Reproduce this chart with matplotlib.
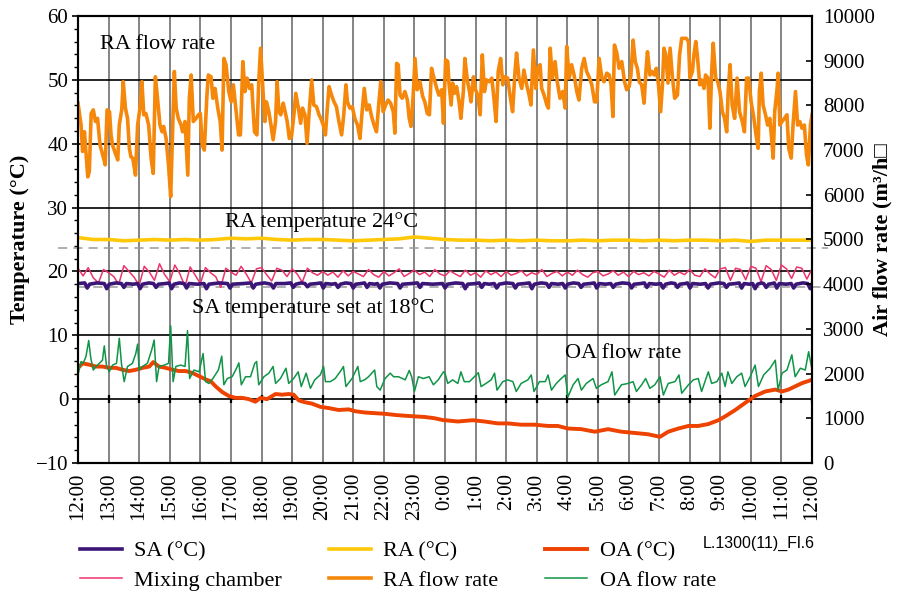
import matplotlib
matplotlib.use("Agg")
import matplotlib.pyplot as plt
import matplotlib.ticker as ticker
import matplotlib.transforms as mtransforms
import numpy as np

plt.rcParams["font.family"] = ["Liberation Serif", "DejaVu Serif"]

# --- data (hours after 12:00) ---------------------------------------------
HOUR_LABELS = ["12:00", "13:00", "14:00", "15:00", "16:00", "17:00", "18:00",
               "19:00", "20:00", "21:00", "22:00", "23:00", "0:00", "1:00",
               "2:00", "3:00", "4:00", "5:00", "6:00", "7:00", "8:00", "9:00",
               "10:00", "11:00", "12:00"]

RA_FLOW_HOURS = [
    0.00, 0.10, 0.15, 0.21, 0.32, 0.37, 0.43, 0.50, 0.57, 0.64, 0.72, 0.81, 0.89, 0.95,
    1.03, 1.08, 1.13, 1.22, 1.30, 1.35, 1.43, 1.48, 1.55, 1.62, 1.68, 1.73, 1.79, 1.88, 1.95,
    2.04, 2.09, 2.15, 2.22, 2.31, 2.39, 2.46, 2.53, 2.61, 2.68, 2.75, 2.80, 2.88, 2.96,
    3.03, 3.10, 3.15, 3.21, 3.28, 3.37, 3.42, 3.50, 3.59, 3.64, 3.70, 3.77, 3.86, 3.94,
    4.00, 4.06, 4.13, 4.21, 4.26, 4.35, 4.41, 4.48, 4.57, 4.65, 4.71, 4.77, 4.84, 4.93,
    5.01, 5.08, 5.17, 5.25, 5.31, 5.39, 5.46, 5.53, 5.61, 5.68, 5.77, 5.85, 5.91, 5.97,
    6.05, 6.11, 6.16, 6.24, 6.31, 6.38, 6.46, 6.51, 6.57, 6.63, 6.71, 6.76, 6.84, 6.91, 6.98,
    7.06, 7.12, 7.20, 7.28, 7.34, 7.42, 7.49, 7.56, 7.64, 7.71, 7.80, 7.88, 7.94,
    8.02, 8.09, 8.16, 8.21, 8.29, 8.37, 8.45, 8.53, 8.62, 8.69, 8.76, 8.81, 8.89, 8.97,
    9.05, 9.14, 9.22, 9.29, 9.36, 9.44, 9.52, 9.60, 9.68, 9.76, 9.84, 9.90, 9.98,
    10.06, 10.14, 10.22, 10.31, 10.36, 10.42, 10.47, 10.53, 10.60, 10.69, 10.77, 10.83, 10.89, 10.96,
    11.02, 11.09, 11.18, 11.27, 11.34, 11.42, 11.49, 11.56, 11.64, 11.73, 11.80, 11.89, 11.95,
    12.02, 12.09, 12.13, 12.20, 12.25, 12.31, 12.38, 12.46, 12.52, 12.60, 12.65, 12.73, 12.80, 12.85, 12.93,
    13.00, 13.07, 13.15, 13.22, 13.29, 13.36, 13.44, 13.53, 13.60, 13.67, 13.74, 13.82, 13.89, 13.96,
    14.05, 14.13, 14.21, 14.29, 14.34, 14.42, 14.51, 14.58, 14.67, 14.75, 14.81, 14.89, 14.97,
    15.03, 15.11, 15.16, 15.24, 15.33, 15.38, 15.44, 15.51, 15.60, 15.67, 15.76, 15.85, 15.93, 15.98,
    16.06, 16.14, 16.22, 16.31, 16.38, 16.47, 16.55, 16.63, 16.71, 16.80, 16.89, 16.96,
    17.04, 17.13, 17.20, 17.29, 17.37, 17.43, 17.49, 17.54, 17.62, 17.69, 17.78, 17.87, 17.94,
    18.02, 18.08, 18.15, 18.22, 18.29, 18.35, 18.43, 18.51, 18.57, 18.62, 18.70, 18.76, 18.84, 18.91, 18.98,
    19.05, 19.11, 19.16, 19.22, 19.29, 19.36, 19.43, 19.51, 19.60, 19.67, 19.74, 19.82, 19.89, 19.96,
    20.01, 20.09, 20.14, 20.20, 20.25, 20.33, 20.39, 20.47, 20.52, 20.60, 20.66, 20.72, 20.77, 20.85, 20.92, 20.99,
    21.07, 21.14, 21.21, 21.26, 21.32, 21.39, 21.47, 21.55, 21.63, 21.72, 21.79, 21.86, 21.93,
    22.01, 22.10, 22.17, 22.24, 22.28, 22.34, 22.40, 22.48, 22.55, 22.62, 22.67, 22.73, 22.78, 22.86, 22.89, 22.95,
    23.02, 23.10, 23.18, 23.24, 23.32, 23.38, 23.46, 23.53, 23.60, 23.67, 23.75, 23.82, 23.88, 23.95, 24.00,
]
RA_FLOW = [
    8050, 7560, 6970, 7410, 6400, 6520, 7820, 7900, 7640, 7710, 7110, 6890, 6670, 7900,
    7860, 7340, 7110, 6930, 6780, 7560, 7900, 8530, 7940, 7710, 7040, 6850, 6820, 6440, 7560,
    8010, 8530, 7790, 7820, 7560, 6820, 6480, 8640, 8080, 7560, 7410, 7530, 7260, 6670,
    5960, 7560, 8760, 7940, 7710, 7560, 7410, 7640, 6440, 8160, 8680, 7640, 7710, 7790,
    7820, 7110, 7000, 8160, 8680, 8640, 8160, 8380, 7940, 7640, 7000, 9050, 8910, 8310,
    8080, 8460, 7860, 7340, 7340, 8980, 8310, 8610, 8380, 8460, 7410, 7340, 8530, 9280,
    8310, 7640, 8080, 7860, 7560, 7230, 7640, 8530, 7860, 7790, 8050, 7900, 7640, 7260, 7300,
    7790, 8270, 7970, 7600, 7940, 7790, 7150, 7860, 8570, 8010, 7970, 7790, 7710,
    7560, 7340, 8010, 8420, 8230, 8080, 7970, 7640, 7340, 7790, 8460, 8080, 7940, 7970,
    7710, 7560, 7260, 7860, 8380, 7900, 8010, 7750, 7560, 7410, 8080, 8530, 7860,
    8010, 8120, 8050, 7860, 7380, 8940, 8910, 8230, 8160, 8310, 8120, 7710, 7530, 8230,
    9050, 8350, 8530, 8200, 8080, 7820, 7790, 8830, 8610, 8380, 8230, 8350, 7600,
    9020, 8980, 8500, 8010, 8500, 8270, 8420, 8080, 7710, 8310, 9050, 8570, 8310, 8080, 8640,
    8350, 8230, 7790, 9130, 8310, 8570, 8530, 8610, 8160, 7640, 8760, 9050, 8460, 8640,
    8610, 8200, 7860, 8760, 9170, 8610, 8380, 8790, 8460, 8230, 8010, 9240, 8380,
    8830, 8910, 8380, 8230, 8010, 7940, 9280, 8610, 8980, 8530, 8160, 8310, 7940, 9320,
    8610, 8910, 8680, 8310, 8120, 8830, 9050, 8760, 8640, 8460, 8080, 8080,
    9050, 8610, 8530, 8720, 8680, 8460, 7750, 9350, 9170, 8830, 8980, 8530, 8350,
    8420, 8680, 9460, 8980, 8830, 8530, 8460, 8050, 8760, 9200, 8680, 8760, 8680, 8830, 8460,
    7860, 8460, 9280, 9130, 8500, 9280, 8680, 8160, 8230, 9130, 9500, 9500, 9500, 9430,
    8610, 8760, 9130, 9430, 9130, 8460, 8570, 8380, 8680, 8610, 7490, 8760, 9390, 8610, 8530, 8310,
    7860, 7710, 7410, 8310, 8910, 8010, 7710, 8610, 7860, 7640, 7410, 8610, 8610,
    8080, 7710, 7340, 7040, 8310, 8720, 8010, 7790, 7560, 7710, 7340, 6820, 7860, 8380, 8720, 7560,
    7640, 7710, 7790, 7040, 6820, 7560, 8310, 7560, 7640, 7490, 7560, 6890, 6670, 7560, 7790,
]

OA_FLOW_HOURS = [
    0.00, 0.10, 0.17, 0.26, 0.35, 0.42, 0.50, 0.59, 0.70, 0.80,
    0.86, 0.93, 1.02, 1.13, 1.26, 1.35, 1.42, 1.51, 1.62, 1.78,
    1.89, 1.95, 2.00, 2.11, 2.27, 2.41, 2.49, 2.57, 2.65, 2.82,
    2.96, 3.03, 3.11, 3.20, 3.36, 3.50, 3.58, 3.65, 3.79, 3.96,
    4.09, 4.17, 4.28, 4.41, 4.59, 4.70, 4.77, 4.88, 5.04, 5.17,
    5.26, 5.34, 5.48, 5.64, 5.78, 5.84, 5.91, 6.08, 6.24, 6.38,
    6.46, 6.62, 6.80, 6.89, 7.05, 7.20, 7.30, 7.46, 7.60, 7.74,
    7.92, 8.03, 8.09, 8.25, 8.41, 8.61, 8.68, 8.76, 8.96, 9.15,
    9.23, 9.37, 9.50, 9.70, 9.77, 9.88, 10.04, 10.21, 10.32, 10.48,
    10.70, 10.83, 10.91, 11.00, 11.13, 11.29, 11.48, 11.62, 11.78, 11.95,
    12.00, 12.09, 12.25, 12.42, 12.52, 12.63, 12.80, 12.96, 13.09, 13.18,
    13.34, 13.51, 13.62, 13.70, 13.89, 14.05, 14.22, 14.33, 14.49, 14.71,
    14.82, 14.91, 15.09, 15.28, 15.37, 15.48, 15.64, 15.80, 15.93, 16.02,
    16.19, 16.35, 16.46, 16.62, 16.84, 16.95, 17.11, 17.33, 17.46, 17.55,
    17.77, 17.99, 18.15, 18.26, 18.43, 18.56, 18.70, 18.86, 19.03, 19.14,
    19.30, 19.52, 19.65, 19.74, 19.96, 20.12, 20.28, 20.39, 20.61, 20.72,
    20.89, 21.05, 21.16, 21.25, 21.38, 21.54, 21.70, 21.81, 21.98, 22.14,
    22.25, 22.42, 22.63, 22.80, 22.89, 23.02, 23.18, 23.34, 23.45, 23.62,
    23.78, 23.89, 23.98,
]
OA_FLOW = [
    1970, 2270, 2230, 2380, 2740, 2340, 2080, 2160, 2230, 2300,
    2620, 2190, 2040, 2190, 2230, 2790, 2230, 1820, 2160, 2230,
    2450, 2660, 2080, 2160, 2230, 2530, 2750, 1820, 2160, 2190,
    2230, 3070, 1820, 2160, 2190, 2160, 2960, 1890, 2080, 2040,
    2450, 1820, 1780, 1890, 2080, 2390, 1750, 1890, 1930, 2100,
    2240, 1750, 1930, 1930, 2230, 2270, 1750, 1930, 2010, 2160,
    1780, 1890, 2120, 1780, 1890, 2040, 1710, 2010, 1670, 1860,
    1970, 2160, 1820, 1820, 1890, 2080, 2160, 1710, 1890, 2160,
    1820, 1860, 1930, 2080, 1710, 1630, 1890, 2010, 1930, 1930,
    1860, 2070, 1930, 1600, 1930, 1890, 1930, 1750, 1860, 2040,
    2010, 1780, 1860, 1780, 2040, 1820, 1820, 1930, 2020, 1710,
    1780, 1860, 2010, 1630, 1820, 1860, 1820, 1600, 1780, 1860,
    1970, 1600, 1820, 1820, 1970, 1630, 1780, 1890, 1970, 1480,
    1750, 1890, 1630, 1780, 1890, 1670, 1750, 1820, 2040, 1520,
    1750, 1780, 1820, 1600, 1750, 1890, 1670, 1750, 1930, 1520,
    1780, 1820, 1970, 1560, 1750, 1860, 1890, 1600, 2040, 1780,
    1820, 2010, 1710, 2040, 1780, 1930, 2010, 1710, 1930, 2190,
    1710, 1970, 2120, 2300, 1630, 2010, 2080, 2420, 1930, 2120,
    2080, 2490, 2160,
]

OA_TEMP_HOURS = [
    0.00, 0.15, 0.37, 0.59, 0.80, 1.02, 1.24, 1.46, 1.67, 1.89,
    2.11, 2.33, 2.46, 2.65, 2.87, 3.09, 3.30, 3.52, 3.74, 3.96,
    4.17, 4.34, 4.50, 4.72, 4.93, 5.15, 5.37, 5.59, 5.80, 5.97,
    6.18, 6.46, 6.67, 6.89, 7.05, 7.22, 7.43, 7.65, 7.92, 8.20,
    8.52, 8.85, 9.07, 9.39, 9.72, 10.04, 10.42, 10.70, 11.02, 11.35,
    11.67, 11.95,
    12.00, 12.42, 12.91, 13.29, 13.73, 14.05, 14.49, 14.93, 15.37, 15.69,
    16.02, 16.46, 16.90, 17.33, 17.77, 18.21, 18.64, 19.03, 19.30, 19.63,
    19.96, 20.28, 20.61, 20.94, 21.16, 21.49, 21.81, 22.14, 22.47, 22.80,
    23.02, 23.23, 23.45, 23.67, 23.98,
]
OA_TEMP = [
    4.9, 5.6, 5.4, 5.1, 5.1, 4.9, 4.9, 4.6, 4.4, 4.6,
    4.9, 5.1, 5.8, 5.1, 4.9, 4.6, 4.4, 4.4, 4.1, 3.6,
    3.1, 2.8, 2.0, 1.1, 0.5, 0.2, 0.2, 0.0, -0.4, 0.2,
    0.0, 0.8, 0.7, 0.8, 0.7, -0.2, -0.5, -0.7, -1.2, -1.4,
    -1.7, -1.6, -1.9, -2.1, -2.2, -2.3, -2.5, -2.6, -2.7, -2.8,
    -3.0, -3.3,
    -3.3, -3.5, -3.3, -3.5, -3.8, -3.8, -4.0, -4.0, -4.2, -4.2,
    -4.6, -4.7, -5.1, -4.7, -5.1, -5.3, -5.5, -5.9, -5.1, -4.6,
    -4.2, -4.2, -3.9, -3.3, -2.7, -1.7, -0.6, 0.5, 1.2, 1.5,
    1.2, 1.5, 2.0, 2.5, 3.0,
]

# RA temperature, every 30 min
RA_TEMP = [
    25.3, 25.0, 25.0, 24.8, 24.9, 25.0, 24.9, 25.0, 24.9, 25.0,
    25.2, 25.1, 25.2, 25.0, 24.9, 25.0, 25.0, 24.9, 24.8, 24.9,
    25.0, 25.1, 25.4, 25.2, 25.0, 24.9, 24.9, 24.8, 24.9, 24.8,
    24.9, 24.8, 24.8, 24.9, 24.8, 24.9, 24.9, 24.8, 24.9, 24.8,
    24.9, 24.9, 24.8, 24.9, 24.7, 24.9, 24.9, 24.9, 24.9,
]

# mixing chamber temperature, every 10 min
MIX_TEMP = [
    20.5, 19.3, 20.6, 19.0, 18.2, 20.3,
    19.8, 19.2, 18.0, 20.9, 20.0, 19.1,
    17.8, 20.8, 19.9, 18.6, 21.2, 19.5,
    18.4, 21.0, 19.6, 17.6, 20.7, 19.4,
    18.1, 20.6, 19.8, 19.2, 17.5, 20.5,
    19.9, 19.4, 20.8, 19.6, 18.2, 20.4,
    20.6, 19.5, 18.5, 20.5, 20.2, 19.2,
    20.4, 19.6, 18.3, 20.5, 19.8, 19.4,
    20.0, 19.4, 19.9, 19.1, 20.1, 19.3,
    20.0, 19.6, 19.2, 20.3, 19.5, 19.1,
    20.0, 19.3, 19.8, 20.4, 19.2, 19.7,
    20.2, 19.5, 19.9, 19.2, 20.3, 19.6,
    19.3, 20.1, 19.6, 19.2, 20.2, 19.4,
    19.8, 19.1, 20.1, 19.5, 19.9, 19.2,
    20.0, 19.4, 19.7, 20.1, 19.3, 19.8,
    19.5, 20.3, 19.2, 19.7, 20.0, 19.3,
    19.9, 19.4, 20.2, 19.5, 19.1, 19.8,
    20.0, 19.3, 19.6, 20.1, 19.4, 19.9,
    19.2, 20.0, 19.5, 19.8, 19.3, 20.0,
    19.6, 19.1, 20.2, 19.4, 19.9, 19.5,
    20.3, 19.4, 19.2, 20.4, 19.6, 19.0,
    20.4, 20.6, 18.6, 20.5, 20.3, 18.7,
    20.8, 20.5, 18.4, 20.9, 20.3, 18.6,
    21.0, 20.4, 18.9, 20.7, 20.5, 18.8,
    20.4,
]

SA_HOURS = [
    0.00,
    0.22, 0.30, 0.38,
    0.62, 0.86, 0.94, 1.02,
    1.25, 1.42, 1.50, 1.58,
    1.80, 1.95, 2.03, 2.11,
    2.32, 2.47, 2.55, 2.63,
    2.85, 2.98, 3.06, 3.14,
    3.32, 3.47, 3.55, 3.63,
    3.90, 4.12, 4.20, 4.28,
    4.62, 4.89, 4.97, 5.05,
    5.40, 5.65, 5.73, 5.81,
    6.10, 6.31, 6.39, 6.47,
    6.75, 6.96, 7.04, 7.12,
    7.30, 7.42, 7.50, 7.58,
    7.80, 7.94, 8.02, 8.10,
    8.30, 8.42, 8.50, 8.58,
    8.75, 8.92, 9.00, 9.08,
    9.25, 9.37, 9.45, 9.53,
    9.70, 9.79, 9.87, 9.95,
    10.20, 10.45, 10.53, 10.61,
    10.90, 11.10, 11.18, 11.26,
    11.60, 11.92, 12.00, 12.08,
    12.35, 12.58, 12.66, 12.74,
    13.00, 13.12, 13.20, 13.28,
    13.45, 13.61, 13.69, 13.77,
    14.00, 14.22, 14.30, 14.38,
    14.60, 14.76, 14.84, 14.92,
    15.15, 15.32, 15.40, 15.48,
    15.70, 15.85, 15.93, 16.01,
    16.20, 16.37, 16.45, 16.53,
    16.75, 16.88, 16.96, 17.04,
    17.25, 17.42, 17.50, 17.58,
    17.80, 18.02, 18.10, 18.18,
    18.40, 18.52, 18.60, 18.68,
    18.90, 19.05, 19.13, 19.21,
    19.40, 19.52, 19.60, 19.68,
    19.85, 19.93, 20.01, 20.09,
    20.35, 20.52, 20.60, 20.68,
    20.95, 21.12, 21.20, 21.28,
    21.50, 21.62, 21.70, 21.78,
    21.95, 22.06, 22.14, 22.22,
    22.35, 22.42, 22.50, 22.58,
    22.70, 22.77, 22.85, 22.93,
    23.15, 23.32, 23.40, 23.48,
    23.70, 23.86, 23.94, 24.00,
]
SA_TEMP = [
    18.1,
    18.2, 17.4, 18.0,
    18.2, 18.1, 17.3, 18.0,
    18.2, 18.1, 17.5, 18.1,
    18.0, 18.1, 17.3, 18.0,
    18.2, 18.1, 17.5, 18.0,
    18.1, 18.2, 17.3, 18.0,
    18.2, 18.1, 17.4, 18.1,
    18.0, 18.1, 17.3, 18.0,
    18.2, 18.1, 17.4, 18.0,
    18.1, 18.2, 17.4, 18.0,
    18.2, 18.0, 17.4, 18.1,
    18.1, 18.2, 17.5, 18.0,
    18.2, 18.1, 17.6, 18.0,
    18.1, 18.2, 17.4, 18.1,
    18.0, 18.1, 17.5, 18.0,
    18.2, 18.1, 17.4, 18.0,
    18.1, 18.2, 17.5, 18.1,
    18.0, 18.1, 17.4, 18.0,
    18.2, 18.1, 17.4, 18.0,
    18.1, 18.2, 17.5, 18.1,
    18.0, 18.1, 17.4, 18.0,
    18.2, 18.1, 17.3, 18.0,
    18.1, 18.2, 17.5, 18.1,
    18.0, 18.1, 17.4, 18.0,
    18.2, 18.1, 17.4, 18.0,
    18.1, 18.2, 17.3, 18.0,
    18.2, 18.1, 17.5, 18.1,
    18.0, 18.1, 17.4, 18.0,
    18.2, 18.1, 17.5, 18.0,
    18.1, 18.2, 17.4, 18.1,
    18.0, 18.1, 17.5, 18.0,
    18.2, 18.1, 17.4, 18.0,
    18.1, 18.2, 17.5, 18.1,
    18.0, 18.1, 17.4, 18.0,
    18.2, 18.1, 17.5, 18.0,
    18.1, 18.2, 17.4, 18.1,
    18.0, 18.1, 17.4, 18.0,
    18.2, 18.1, 17.5, 18.0,
    18.1, 18.2, 17.4, 18.1,
    18.0, 18.1, 17.3, 18.0,
    18.2, 18.1, 17.5, 18.0,
    18.1, 18.2, 17.4, 18.1,
    18.0, 18.1, 17.4, 18.0,
    18.2, 18.1, 17.3, 18.0,
]

RA_REF_LINE = 23.6   # dashed guide drawn just under the RA trace
SA_REF_LINE = 17.55  # dashed guide drawn just under the SA trace

assert len(RA_FLOW_HOURS) == len(RA_FLOW)
assert len(OA_FLOW_HOURS) == len(OA_FLOW)
assert len(OA_TEMP_HOURS) == len(OA_TEMP)
assert len(SA_HOURS) == len(SA_TEMP)

ra_temp_hours = np.arange(len(RA_TEMP)) * 0.5
mix_hours = np.arange(len(MIX_TEMP)) / 6.0

# --- colours ---------------------------------------------------------------
C_SA = "#3b1677"
C_RA = "#ffc90a"
C_OA = "#ee4200"
C_MIX = "#ee336c"
C_RAF = "#f5870a"
C_OAF = "#109447"

# --- figure ----------------------------------------------------------------
fig = plt.figure(figsize=(9.11, 5.93), dpi=100)
ax = fig.add_axes([78 / 911, 1 - 463 / 593, 734 / 911, 447 / 593])
ax2 = ax.twinx()

ax.set_xlim(0, 24)
ax.set_ylim(-10, 60)
ax2.set_ylim(0, 10000)

ax.set_xticks(np.arange(len(HOUR_LABELS)))
ax.set_xticklabels(HOUR_LABELS, rotation=90, fontsize=15)
ax.set_yticks(np.arange(-10, 61, 10))
ax.yaxis.set_minor_locator(ticker.MultipleLocator(2))
ax.tick_params(axis="x", length=0, pad=7)
ax.tick_params(axis="y", which="major", direction="out", length=4, width=1.2,
               labelsize=15, pad=3)
ax.tick_params(axis="y", which="minor", direction="out", length=3, width=1)

ax2.set_yticks(np.arange(0, 10001, 1000))
ax2.tick_params(axis="y", direction="in", length=4, width=1.2, labelsize=15, pad=8)

ax.grid(axis="x", color="#707070", linewidth=1.2)
ax.grid(axis="y", color="black", linewidth=1.2)
ax.set_axisbelow(True)

for a in (ax, ax2):
    for s in a.spines.values():
        s.set_linewidth(1.5)
        s.set_color("black")

# small category ticks where the time axis crosses 0 degC
ax.plot(np.arange(len(HOUR_LABELS)), np.zeros(len(HOUR_LABELS)), linestyle="none",
        marker="|", markersize=6, markeredgewidth=1.6, color="black", zorder=1.5)

# dashed guide lines, running a little past both axes
trans = mtransforms.blended_transform_factory(ax.transAxes, ax.transData)
ax.plot([-0.027, 1.022], [RA_REF_LINE, RA_REF_LINE], transform=trans, clip_on=False,
        color="#9a9a9a", linewidth=1.1, dashes=(6, 4), zorder=1.6)
ax.plot([0.0, 1.012], [SA_REF_LINE, SA_REF_LINE], transform=trans, clip_on=False,
        color="#9a9a9a", linewidth=1.1, dashes=(6, 4), zorder=1.6)

# temperature series
l_ra, = ax.plot(ra_temp_hours, RA_TEMP, color=C_RA, linewidth=2.6, label="RA (°C)")
l_mix, = ax.plot(mix_hours, MIX_TEMP, color=C_MIX, linewidth=1.1, label="Mixing chamber")
l_sa, = ax.plot(SA_HOURS, SA_TEMP, color=C_SA, linewidth=2.6, label="SA (°C)")
l_oa, = ax.plot(OA_TEMP_HOURS, OA_TEMP, color=C_OA, linewidth=2.8, label="OA (°C)")

# flow rates on right axis
l_raf, = ax2.plot(RA_FLOW_HOURS, RA_FLOW, color=C_RAF, linewidth=2.6, label="RA flow rate")
l_oaf, = ax2.plot(OA_FLOW_HOURS, OA_FLOW, color=C_OAF, linewidth=1.1, label="OA flow rate")

# annotations
ax.text(0.72, 55.5, "RA flow rate", fontsize=16, va="center", ha="left")
ax.text(4.8, 27.7, "RA temperature 24°C", fontsize=16, va="center", ha="left")
ax.text(3.73, 14.3, "SA temperature set at 18°C", fontsize=16, va="center", ha="left")
ax.text(15.93, 7.1, "OA flow rate", fontsize=16, va="center", ha="left")

ax.set_ylabel("Temperature (°C)", fontsize=16, fontweight="bold")
ax.yaxis.set_label_coords(-0.066, 0.5)
ax2.set_ylabel("Air flow rate (m³/h□", fontsize=16, fontweight="bold")
ax2.yaxis.set_label_coords(1.083, 0.5)

# legend: columns SA/Mixing, RA/RA flow, OA/OA flow
handles = [l_sa, l_mix, l_ra, l_raf, l_oa, l_oaf]
fig.legend(handles, [h.get_label() for h in handles], ncol=3, loc="upper left",
           bbox_to_anchor=(80 / 911, 1 - 541 / 593), frameon=False, fontsize=16,
           handlelength=1.9, handletextpad=0.55, columnspacing=2.1,
           labelspacing=0.4, borderpad=0, borderaxespad=0)

fig.text(703 / 911, 1 - 543 / 593, "L.1300(11)_Fl.6", family="Liberation Sans",
         fontsize=11.5, va="center", ha="left")

fig.savefig("out.png", dpi=100, facecolor="white")
